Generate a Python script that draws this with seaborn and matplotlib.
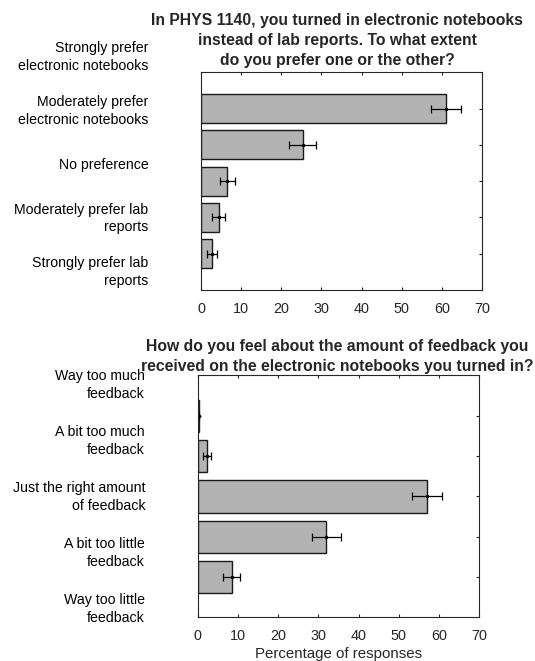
import numpy as np
import matplotlib
matplotlib.use("Agg")
import matplotlib.pyplot as plt
import matplotlib.transforms as mtransforms
import seaborn as sns

sns.set_style("ticks")
plt.rcParams['font.family'] = ['Liberation Sans', 'DejaVu Sans']

# survey question 1: notebooks vs lab reports
pref_labels = ["Strongly prefer\nelectronic notebooks",
               "Moderately prefer\nelectronic notebooks",
               "No preference",
               "Moderately prefer lab\nreports",
               "Strongly prefer lab\nreports"]
pref_pct = [61.0, 25.3, 6.6, 4.4, 2.7]
pref_err = [3.7, 3.3, 1.9, 1.6, 1.2]

# survey question 2: amount of feedback
fb_labels = ["Way too much\nfeedback",
             "A bit too much\nfeedback",
             "Just the right amount\nof feedback",
             "A bit too little\nfeedback",
             "Way too little\nfeedback"]
fb_pct = [0.2, 2.3, 57.0, 32.0, 8.5]
fb_err = [0.15, 1.1, 3.75, 3.5, 2.1]

title1 = "In PHYS 1140, you turned in electronic notebooks\ninstead of lab reports. To what extent\ndo you prefer one or the other?"
title2 = "How do you feel about the amount of feedback you\nreceived on the electronic notebooks you turned in?"

W, H = 535, 661
fig = plt.figure(figsize=(W / 100, H / 100), dpi=100)
ax1 = fig.add_axes([201 / W, 1 - 290 / H, 281 / W, 217.6 / H])
ax2 = fig.add_axes([197.7 / W, 1 - 617.3 / H, 281.6 / W, 241.8 / H])

dark = '0.15'


def draw(ax, labels, pct, err, title, title_x, title_pad, label_top, label_bot):
    sns.barplot(x=pct, y=labels, orient='h', color='#b3b3b3', saturation=1,
                width=0.8, edgecolor='0.1', linewidth=1.0, ax=ax)
    ax.errorbar(pct, np.arange(len(pct)), xerr=err, fmt='.', color='k',
                ms=3, capsize=3.0, elinewidth=0.9, capthick=0.9)
    ax.set_xlim(0, 70)
    ax.set_ylim(len(pct), -1)
    ax.set_xticks(range(0, 71, 10))
    ax.set_ylabel('')
    ax.set_xlabel('')
    ax.tick_params(axis='x', direction='in', top=True, bottom=True, length=2.5,
                   width=0.8, color=dark, labelcolor=dark, labelsize=10.4, pad=8.5)
    ax.tick_params(axis='y', direction='in', left=True, right=True, length=2.5,
                   width=0.8, color=dark, labelleft=False)
    for s in ax.spines.values():
        s.set_visible(True)
        s.set_color(dark)
        s.set_linewidth(0.8)
    ax.set_title(title, fontsize=11.3, fontweight='bold', x=title_x,
                 pad=title_pad, linespacing=1.42)
    trans = mtransforms.blended_transform_factory(ax.transAxes, ax.transData)
    for lab, yy in zip(labels, np.linspace(label_top, label_bot, len(labels))):
        ax.text(-0.187, yy, lab, transform=trans, ha='right', va='center',
                fontsize=10.2, linespacing=1.33, color='k')


draw(ax1, pref_labels, pref_pct, pref_err, title1, 0.484, 5.5, -1.42, 4.51)
draw(ax2, fb_labels, fb_pct, fb_err, title2, 0.495, 3.4, -0.76, 4.79)
ax2.set_xlabel("Percentage of responses", fontsize=10.8, color=dark, labelpad=3)

fig.savefig("out.png", dpi=100)
